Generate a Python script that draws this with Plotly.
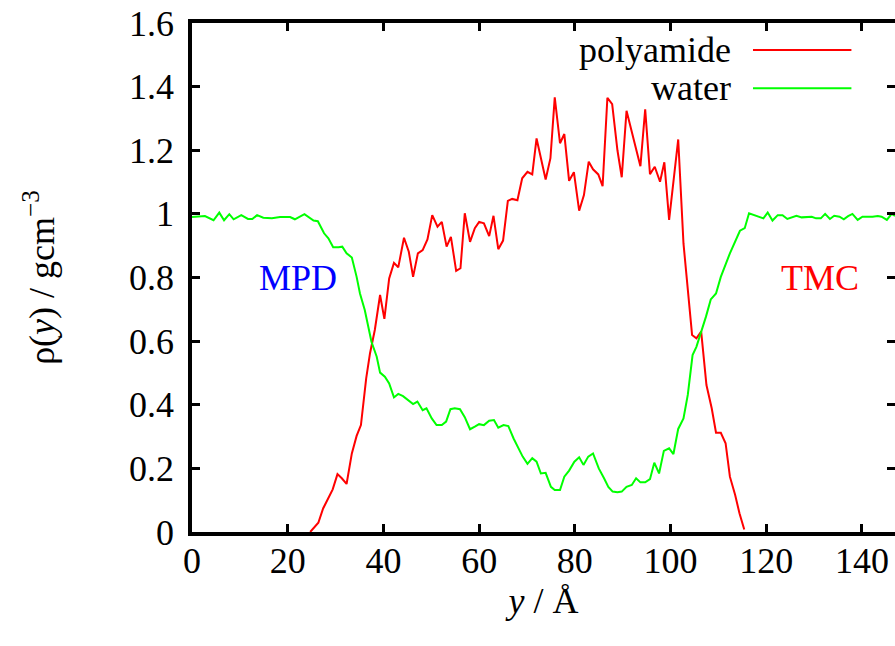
import plotly.graph_objects as go

# density profiles
water_y = [0.0, 1.7, 2.7, 4.5, 5.7, 6.7, 7.8, 8.7, 10.3, 11.7, 12.6, 13.6, 14.9, 16.7, 18.4,
           20.5, 21.5, 23.5, 25.4, 26.3, 27.6, 28.5, 29.5, 30.6, 31.4, 32.3, 33.4, 34.4, 35.1,
           36.1, 37.5, 38.6, 39.3, 40.3, 41.2, 42.2, 43.1, 44.1, 45.2, 46.2, 47.1, 48.2, 49.0,
           50.1, 51.1, 52.2, 53.1, 54.0, 54.9, 56.0, 57.0, 58.1, 59.1, 60.0, 61.0, 62.1, 63.1,
           64.0, 65.1, 66.1, 67.2, 68.2, 69.1, 70.1, 71.1, 72.0, 72.9, 73.9, 75.0, 75.8, 76.9,
           77.8, 78.8, 79.9, 80.9, 81.8, 82.8, 83.8, 85.0, 86.1, 87.0, 87.9, 88.9, 89.8, 90.8,
           91.9, 92.8, 93.7, 94.7, 95.7, 96.6, 97.6, 98.6, 99.7, 100.6, 101.6, 102.7, 103.6,
           104.6, 105.4, 106.3, 107.4, 108.4, 109.5, 110.5, 112.4, 114.5, 115.5, 116.4, 117.4,
           118.3, 119.4, 120.3, 121.3, 122.4, 123.4, 124.4, 125.4, 126.3, 127.4, 128.4, 129.5,
           130.4, 131.4, 132.3, 133.3, 134.2, 135.3, 136.2, 137.1, 138.0, 139.1, 140.1, 141.1,
           142.2, 143.3, 144.1, 145.2, 146.2, 146.9]
water_rho = [0.990, 0.991, 0.993, 0.980, 1.004, 0.980, 0.999, 0.983, 0.996, 0.984, 0.984, 0.996,
             0.988, 0.986, 0.990, 0.990, 0.983, 0.999, 0.979, 0.977, 0.939, 0.923, 0.895, 0.895,
             0.897, 0.876, 0.863, 0.802, 0.750, 0.698, 0.598, 0.551, 0.501, 0.488, 0.467, 0.423,
             0.434, 0.427, 0.415, 0.402, 0.410, 0.383, 0.389, 0.357, 0.336, 0.336, 0.347, 0.386,
             0.389, 0.386, 0.361, 0.323, 0.331, 0.339, 0.336, 0.350, 0.352, 0.328, 0.336, 0.333,
             0.294, 0.263, 0.237, 0.214, 0.232, 0.221, 0.184, 0.186, 0.142, 0.132, 0.132, 0.174,
             0.193, 0.221, 0.235, 0.211, 0.237, 0.247, 0.200, 0.169, 0.142, 0.127, 0.125, 0.127,
             0.142, 0.148, 0.169, 0.156, 0.156, 0.166, 0.218, 0.184, 0.255, 0.263, 0.245, 0.324,
             0.357, 0.431, 0.556, 0.582, 0.624, 0.677, 0.731, 0.750, 0.802, 0.876, 0.947, 0.955,
             1.002, 0.996, 0.991, 0.986, 1.004, 0.979, 0.996, 0.996, 0.984, 0.989, 0.994, 0.989,
             0.991, 0.991, 0.986, 0.986, 1.000, 0.984, 0.994, 0.991, 0.983, 0.993, 1.000, 0.981,
             0.991, 0.990, 0.991, 0.993, 0.991, 0.981, 1.000, 0.994]

pa_y = [24.7, 25.4, 26.4, 27.4, 28.5, 29.4, 30.4, 31.3, 32.3, 33.4, 34.4, 35.3, 36.4, 37.2,
        38.2, 39.3, 40.2, 41.2, 42.2, 43.1, 44.3, 45.3, 46.2, 47.2, 48.2, 49.2, 50.2, 51.3,
        52.2, 53.2, 54.1, 55.2, 56.1, 57.0, 58.1, 59.1, 60.0, 61.0, 62.1, 63.0, 64.0, 65.0,
        66.0, 66.9, 68.0, 69.0, 70.1, 71.1, 72.0, 72.9, 73.9, 74.9, 75.8, 76.9, 77.8, 78.8,
        79.8, 80.9, 81.9, 82.9, 83.8, 84.9, 85.8, 86.8, 87.8, 88.9, 89.8, 90.8, 91.7, 92.6,
        93.7, 94.7, 95.7, 96.7, 97.8, 98.7, 99.7, 100.6, 101.6, 102.7, 104.5, 105.4, 106.4,
        107.5, 108.6, 109.5, 110.5, 111.5, 112.4, 113.5, 114.4, 115.4]
pa_rho = [0.000, 0.012, 0.029, 0.074, 0.109, 0.134, 0.182, 0.169, 0.151, 0.247, 0.302, 0.336,
          0.483, 0.562, 0.635, 0.745, 0.670, 0.797, 0.846, 0.832, 0.925, 0.881, 0.802, 0.876,
          0.886, 0.920, 0.996, 0.960, 0.975, 0.897, 0.928, 0.821, 0.829, 1.002, 0.912, 0.955,
          0.975, 0.970, 0.930, 0.994, 0.889, 0.916, 1.041, 1.047, 1.043, 1.112, 1.132, 1.124,
          1.237, 1.175, 1.108, 1.175, 1.366, 1.222, 1.251, 1.104, 1.131, 1.010, 1.059, 1.164,
          1.140, 1.124, 1.087, 1.365, 1.345, 1.200, 1.115, 1.324, 1.265, 1.216, 1.150, 1.329,
          1.125, 1.148, 1.101, 1.162, 0.981, 1.106, 1.234, 0.907, 0.619, 0.609, 0.630, 0.462,
          0.389, 0.312, 0.312, 0.279, 0.174, 0.116, 0.059, 0.008]

x_ticks = [0, 20, 40, 60, 80, 100, 120, 140]
y_ticks = [0, 0.2, 0.4, 0.6, 0.8, 1.0, 1.2, 1.4, 1.6]
y_tick_text = ["0", "0.2", "0.4", "0.6", "0.8", "1", "1.2", "1.4", "1.6"]

FONT = "Times New Roman, Liberation Serif, serif"
FS = 36

fig = go.Figure()
fig.add_trace(go.Scatter(x=pa_y, y=pa_rho, mode="lines", name="polyamide",
                         line=dict(color="#ff0000", width=2)))
fig.add_trace(go.Scatter(x=water_y, y=water_rho, mode="lines", name="water",
                         line=dict(color="#00ff00", width=2)))

fig.update_layout(
    width=895, height=646,
    margin=dict(l=192, r=0, t=23, b=114),
    paper_bgcolor="white", plot_bgcolor="white",
    showlegend=False,
    font=dict(family=FONT, size=FS, color="black"),
)

axis_style = dict(showline=True, linecolor="black", linewidth=3.5, mirror="ticks",
                  ticks="inside", ticklen=8, tickwidth=3, tickcolor="black",
                  showgrid=False, zeroline=False, automargin=False,
                  tickfont=dict(family=FONT, size=FS))
fig.update_xaxes(range=[0, 146.9], tickvals=x_ticks, ticklabelstandoff=-6,
                 title=dict(text="<i>y</i> / Å", standoff=8, font=dict(family=FONT, size=FS)),
                 **axis_style)
fig.update_yaxes(range=[0, 1.6], tickvals=y_ticks, ticktext=y_tick_text, ticklabelstandoff=7,
                 title=dict(text="ρ(<i>y</i>) / gcm<sup>−3</sup>", standoff=64,
                            font=dict(family=FONT, size=FS)),
                 **axis_style)

# region labels
fig.add_annotation(x=22.1, y=0.80, text="MPD", showarrow=False,
                   font=dict(family=FONT, size=FS, color="#0000ff"))
fig.add_annotation(x=131.2, y=0.80, text="TMC", showarrow=False,
                   font=dict(family=FONT, size=FS, color="#ff0000"))

# gnuplot-style key: text on the left, line sample on the right
for label, color, yp in [("polyamide", "#ff0000", 0.947), ("water", "#00ff00", 0.872)]:
    fig.add_annotation(xref="paper", yref="paper", x=0.7696, y=yp, text=label,
                       showarrow=False, xanchor="right", yanchor="middle",
                       font=dict(family=FONT, size=FS, color="black"))
    fig.add_shape(type="line", xref="paper", yref="paper", x0=0.798, x1=0.938,
                  y0=yp, y1=yp, line=dict(color=color, width=2))

# drop the default 8px body margin so the figure fills the window exactly
fig.write_html("out.html", config={"displayModeBar": False},
               post_script="document.body.style.margin = '0';")
